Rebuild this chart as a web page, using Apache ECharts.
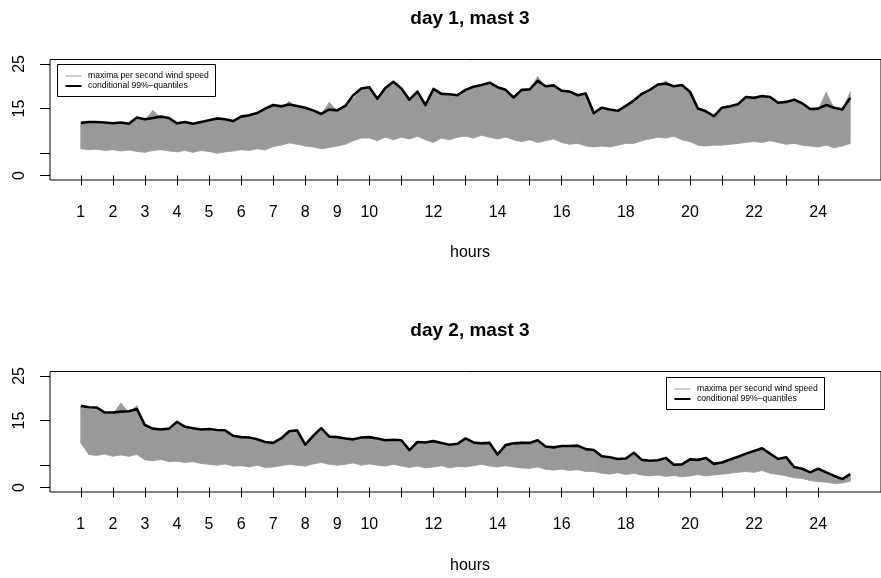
<!DOCTYPE html>
<html><head><meta charset="utf-8">
<script src="https://cdn.jsdelivr.net/npm/echarts@6/dist/echarts.min.js"></script>
<style>html,body{margin:0;padding:0;background:#fff}#c{width:881px;height:578px}</style>
</head><body><div id="c"></div>
<script>
// ---------- data ----------
const hours = [1,1.25,1.5,1.75,2,2.25,2.5,2.75,3,3.25,3.5,3.75,4,4.25,4.5,4.75,5,5.25,5.5,5.75,
6,6.25,6.5,6.75,7,7.25,7.5,7.75,8,8.25,8.5,8.75,9,9.25,9.5,9.75,10,10.25,10.5,10.75,
11,11.25,11.5,11.75,12,12.25,12.5,12.75,13,13.25,13.5,13.75,14,14.25,14.5,14.75,15,15.25,15.5,15.75,
16,16.25,16.5,16.75,17,17.25,17.5,17.75,18,18.25,18.5,18.75,19,19.25,19.5,19.75,20,20.25,20.5,20.75,
21,21.25,21.5,21.75,22,22.25,22.5,22.75,23,23.25,23.5,23.75,24,24.25,24.5,24.75,25];

// day 1: upper / lower envelope of per-second maxima, conditional 99% quantile
const day1Max = [11.6,11.7,11.8,11.6, 11.4,11.7,11.5,12.7, 12.4,14.6,12.9,12.6, 11.5,11.8,11.4,11.8,
12.2,12.6,12.4,12.0, 13.0,13.3,13.7,14.7, 15.5,15.2,16.6,15.3, 15.0,14.4,13.6,16.4,
14.4,15.3,17.2,19.2, 19.5,17.0,19.4,20.8, 19.2,16.8,18.5,16.0, 19.0,18.0,17.9,17.7,
18.9,19.6,20.0,20.5, 19.5,19.0,17.4,18.9, 19.0,22.2,19.7,19.9, 18.8,18.5,17.8,18.1,
13.8,14.9,14.6,14.3, 15.3,16.5,18.0,18.9, 20.1,21.2,19.7,20.0, 18.5,14.8,14.2,13.2,
14.9,15.2,15.8,17.3, 17.1,17.5,17.3,16.1, 16.2,16.7,15.9,14.7, 14.8,18.6,15.0,14.6, 18.8];
const day1Min = [6.0,5.8,5.9,5.6, 5.8,5.5,5.7,5.4, 5.2,5.6,5.8,5.5, 5.3,5.6,5.2,5.6,
5.4,5.0,5.3,5.5, 5.8,5.6,6.0,5.7, 6.5,6.8,7.3,7.0, 6.6,6.4,6.0,6.3,
6.6,7.0,7.8,8.4, 8.4,7.8,8.6,8.0, 8.6,8.2,8.8,8.0, 7.4,8.4,8.0,8.6,
8.8,8.4,9.0,8.6, 8.2,8.6,8.0,7.6, 8.0,7.4,7.8,8.2, 7.4,7.0,7.2,6.6,
6.4,6.6,6.4,6.8, 7.2,7.2,7.8,8.2, 8.6,8.4,8.8,8.0, 7.6,6.8,6.6,6.8,
6.8,7.0,7.2,7.4, 7.6,7.4,7.8,7.4, 7.0,7.2,6.8,6.6, 6.4,6.8,6.2,6.6, 7.2];
const day1Q99 = [11.8,12.0,12.0,11.9, 11.7,11.9,11.6,13.0, 12.6,12.9,13.2,12.9, 11.7,12.0,11.6,12.0,
12.4,12.8,12.6,12.2, 13.2,13.5,14.0,15.0, 15.8,15.5,15.9,15.6, 15.2,14.6,13.8,14.8,
14.6,15.6,18.0,19.5, 19.8,17.2,19.6,21.0, 19.5,17.0,18.8,15.8, 19.4,18.3,18.2,18.0,
19.2,19.9,20.3,20.8, 19.8,19.2,17.5,19.2, 19.3,21.2,20.0,20.2, 19.0,18.8,18.0,18.4,
14.0,15.2,14.8,14.5, 15.6,16.8,18.3,19.2, 20.4,20.6,20.0,20.3, 18.8,15.0,14.4,13.3,
15.2,15.5,16.0,17.6, 17.4,17.8,17.6,16.3, 16.5,17.0,16.2,14.9, 15.0,15.8,15.2,14.8, 17.4];

// day 2
const day2Max = [18.0,17.6,17.4,16.5, 16.4,18.9,16.8,18.3, 13.6,12.9,12.7,12.9, 14.2,13.3,13.0,12.7,
12.8,12.5,12.5,11.3, 11.0,10.9,10.5,9.9, 9.7,10.7,12.3,12.4, 9.8,11.3,12.9,11.1,
11.0,10.7,10.5,10.9, 11.0,10.7,10.3,10.4, 10.3,8.6,9.9,9.8, 10.1,9.7,9.3,9.5,
10.7,9.8,9.6,9.7, 7.8,9.2,9.6,10.3, 9.7,10.3,8.9,8.7, 9.0,9.0,9.1,8.3,
8.1,6.8,6.5,6.1, 6.2,7.5,5.9,5.7, 5.8,6.3,4.9,4.9, 6.0,5.9,6.3,5.0,
5.3,6.0,6.6,7.3, 7.8,8.8,7.3,6.1, 6.5,4.3,3.9,3.1, 3.9,3.1,2.3,1.6, 2.7];
const day2Min = [10.0,7.4,7.2,7.5, 7.0,7.3,7.0,7.4, 6.2,6.0,6.3,5.8, 5.9,5.6,5.8,5.4,
5.2,5.0,5.3,4.8, 4.9,4.6,5.0,4.5, 4.6,4.9,5.2,5.0, 4.8,5.3,5.6,5.2,
5.0,5.2,5.5,5.0, 5.3,5.0,4.8,5.2, 4.8,4.5,4.8,4.4, 4.6,4.9,4.4,4.7,
4.6,4.9,5.2,4.8, 4.6,4.9,4.6,4.4, 4.3,4.6,4.1,3.9, 4.1,3.8,4.0,3.6,
3.6,3.2,3.0,3.3, 2.9,3.2,2.8,2.6, 2.8,2.5,2.7,2.4, 2.6,2.9,2.6,2.8,
3.0,3.2,3.4,3.6, 3.4,3.8,3.2,2.9, 2.6,2.2,2.0,1.6, 1.3,1.2,0.9,1.0, 1.4];
const day2Q99 = [18.3,18.0,17.9,16.8, 16.8,17.0,17.1,17.6, 14.0,13.2,13.0,13.2, 14.7,13.6,13.3,13.0,
13.1,12.9,12.8,11.6, 11.3,11.2,10.8,10.2, 10.0,11.0,12.6,12.8, 9.6,11.6,13.3,11.4,
11.3,11.0,10.8,11.2, 11.3,11.0,10.6,10.7, 10.6,8.4,10.2,10.1, 10.4,10.0,9.6,9.8,
11.0,10.1,9.9,10.0, 7.4,9.5,9.9,10.0, 10.0,10.6,9.2,9.0, 9.3,9.3,9.4,8.6,
8.4,7.0,6.8,6.4, 6.5,7.8,6.2,6.0, 6.1,6.6,5.1,5.2, 6.3,6.2,6.6,5.3,
5.6,6.3,6.9,7.6, 8.2,8.8,7.6,6.4, 6.8,4.6,4.2,3.4, 4.2,3.4,2.6,1.9, 3.0];

const xTicks = [1,2,3,4,5,6,7,8,9,10,11,12,13,14,15,16,17,18,19,20,21,22,23,24];
const xTickLabels = [1,2,3,4,5,6,7,8,9,10,12,14,16,18,20,22,24];
const yTicks = [0,5,15,25];
const yTickLabels = [0,15,25];
const panelTitles = ['day 1, mast 3', 'day 2, mast 3'];
const xAxisName = 'hours';
const legendNames = ['maxima per second wind speed', 'conditional 99%–quantiles'];

// ---------- chart ----------
const FONT = '"Liberation Sans", Arial, Helvetica, sans-serif';
const GREY = '#999999';
const chart = echarts.init(document.getElementById('c'), null, {renderer: 'canvas'});

const panels = [
  {top: 59.5, height: 120.5, hi: day1Max, lo: day1Min, q: day1Q99, titleY: 19, nameY: 253, legX: 57.5, legY: 64.5},
  {top: 371.5, height: 120.5, hi: day2Max, lo: day2Min, q: day2Q99, titleY: 331, nameY: 566, legX: 666.5, legY: 377.5}
];

const grid = [], xAxis = [], yAxis = [], series = [], graphic = [];
panels.forEach((p, i) => {
  grid.push({left: 50, top: p.top, width: 841, height: p.height, show: true,
    borderColor: '#000', borderWidth: 1, backgroundColor: 'transparent', containLabel: false});
  xAxis.push({type: 'value', gridIndex: i, min: 0.04, max: 25.96,
    axisLine: {show: false}, splitLine: {show: false},
    axisTick: {show: true, length: 10, lineStyle: {color: '#000', width: 1}, customValues: xTicks},
    axisLabel: {customValues: xTickLabels, fontSize: 16, color: '#000', fontFamily: FONT, margin: 25,
      formatter: v => String(v)}});
  yAxis.push({type: 'value', gridIndex: i, min: -1, max: 26,
    axisLine: {show: false}, splitLine: {show: false},
    axisTick: {show: true, length: 10, lineStyle: {color: '#000', width: 1}, customValues: yTicks},
    axisLabel: {customValues: yTickLabels, rotate: 90, fontSize: 16, color: '#000', fontFamily: FONT, margin: 22,
      formatter: v => String(v)}});
  const hi = p.hi, lo = p.lo;
  series.push({
    type: 'custom', name: legendNames[0], xAxisIndex: i, yAxisIndex: i, silent: true, z: 2, clip: true,
    data: hours.map((h, k) => [h, lo[k], hi[k]]),
    encode: {x: 0, y: [1, 2]},
    renderItem: (params, api) => {
      const k = params.dataIndex;
      if (k >= hours.length - 1) return null;
      const pts = [
        api.coord([api.value(0), api.value(1)]),
        api.coord([api.value(0), api.value(2)]),
        api.coord([hours[k + 1], hi[k + 1]]),
        api.coord([hours[k + 1], lo[k + 1]])
      ];
      return {type: 'polygon', shape: {points: pts},
        style: {fill: GREY, stroke: GREY, lineWidth: 0.8}};
    }
  });
  series.push({
    type: 'line', name: legendNames[1], xAxisIndex: i, yAxisIndex: i, z: 3,
    data: hours.map((h, k) => [h, p.q[k]]),
    symbol: 'none', showSymbol: false, silent: true,
    lineStyle: {color: '#000', width: 2.6, join: 'round'}
  });
  graphic.push({type: 'text', x: 470, y: p.titleY, z: 20,
    style: {text: panelTitles[i], fontSize: 19, fontWeight: 'bold', fontFamily: FONT, fill: '#000',
      align: 'center', verticalAlign: 'middle'}});
  graphic.push({type: 'text', x: 470, y: p.nameY, z: 20,
    style: {text: xAxisName, fontSize: 16, fontFamily: FONT, fill: '#000', align: 'center', verticalAlign: 'middle'}});
  graphic.push({type: 'group', x: p.legX, y: p.legY, z: 20, children: [
    {type: 'rect', shape: {x: 0, y: 0, width: 158, height: 32}, style: {fill: '#fff', stroke: '#000', lineWidth: 1}},
    {type: 'line', shape: {x1: 8, y1: 11.5, x2: 24, y2: 11.5}, style: {stroke: GREY, lineWidth: 1}},
    {type: 'line', shape: {x1: 8, y1: 21.5, x2: 24, y2: 21.5}, style: {stroke: '#000', lineWidth: 2}},
    {type: 'text', x: 30.5, y: 11.5, style: {text: legendNames[0], fontSize: 8.6, fontFamily: FONT, fill: '#000', verticalAlign: 'middle'}},
    {type: 'text', x: 30.5, y: 21.5, style: {text: legendNames[1], fontSize: 8.6, fontFamily: FONT, fill: '#000', verticalAlign: 'middle'}}
  ]});
});

chart.setOption({
  animation: false,
  backgroundColor: '#fff',
  grid, xAxis, yAxis, series, graphic
});
</script></body></html>
